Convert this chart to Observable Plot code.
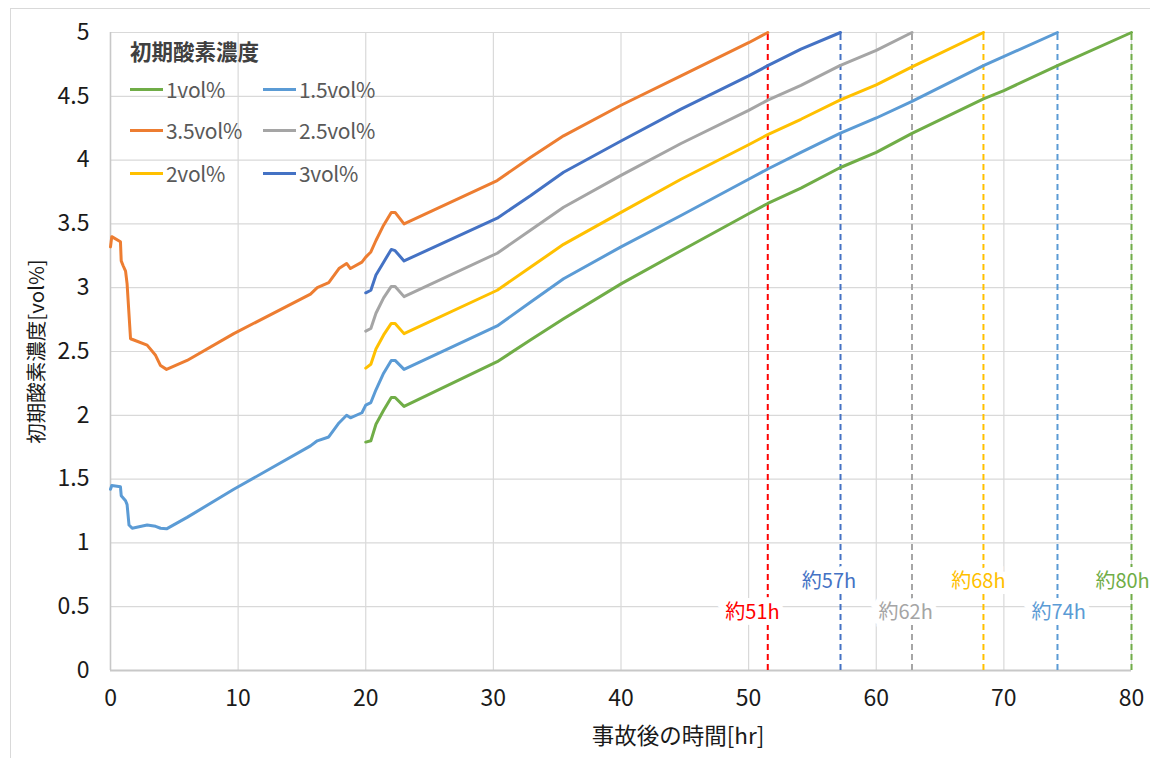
<!DOCTYPE html>
<html><head><meta charset="utf-8">
<script src="https://cdn.jsdelivr.net/npm/d3@7"></script>
<script src="https://cdn.jsdelivr.net/npm/@observablehq/plot@0.6"></script>
<style>
body{margin:0;background:#fff;font-family:"Noto Sans CJK JP","Noto Sans",sans-serif;}
#wrap{position:relative;width:1150px;height:758px;overflow:hidden;background:#fff;}
#border{position:absolute;left:10px;top:8px;width:1170px;height:800px;border:1.5px solid #d9d9d9;box-sizing:border-box;}
#chart{position:absolute;left:0;top:0;}
#legend{position:absolute;left:0;top:0;}
.lg-title{position:absolute;left:130px;top:35px;font-size:21.5px;font-weight:bold;color:#404040;line-height:32px;white-space:nowrap;}
.lg-item{position:absolute;display:flex;align-items:center;height:30px;font-size:21px;color:#595959;white-space:nowrap;letter-spacing:-0.3px;}
.lg-sw{width:33px;height:3px;margin-right:3px;}
</style>
</head><body>
<div id="wrap"><div id="border"></div><div id="chart"></div><div id="legend"></div></div>
<script>
// ---- data ----
const seriesNames = ["1vol%","1.5vol%","3.5vol%","2.5vol%","2vol%","3vol%"];
const seriesColors = ["#70AD47","#5B9BD5","#ED7D31","#A5A5A5","#FFC000","#4472C4"];

const t35 = [0,0.1,0.78,0.84,1.0,1.18,1.3,1.57,1.83,2.87,3.53,3.92,4.39,6.0,9.66,15.67,16.2,17.1,17.9,18.5,18.8,19.7,20.0,20.4,20.8,21.4,22.0,22.3,23.0,30.3,32.9,35.5,40,44.7,50,51.5];
const v35 = [3.32,3.40,3.36,3.21,3.17,3.13,3.03,2.60,2.59,2.55,2.47,2.39,2.36,2.43,2.64,2.95,3.00,3.04,3.15,3.19,3.15,3.20,3.24,3.28,3.37,3.49,3.59,3.59,3.50,3.84,4.02,4.19,4.43,4.66,4.92,5.0];

const t15 = [0,0.1,0.78,0.84,1.18,1.3,1.45,1.7,2.87,3.53,3.92,4.39,6.0,9.66,15.67,16.2,17.1,17.9,18.5,18.8,19.7,20.0,20.4,20.8,21.4,22.0,22.3,23.0,30.3,32.9,35.5,40,44.7,50,51.5,54.1,57.15,60,62.8,68.4,74.2];
const v15 = [1.42,1.45,1.44,1.37,1.33,1.30,1.14,1.115,1.14,1.13,1.115,1.11,1.20,1.42,1.76,1.80,1.83,1.94,2.00,1.98,2.02,2.08,2.10,2.20,2.33,2.43,2.43,2.36,2.70,2.886,3.07,3.32,3.566,3.85,3.93,4.06,4.21,4.33,4.46,4.74,5.0];

const t30 = [20.0,20.4,20.8,21.4,22.0,22.3,23.0,30.3,32.9,35.5,40,44.7,50,51.5,54.1,57.2];
const v30 = [2.96,2.98,3.10,3.20,3.30,3.29,3.21,3.545,3.72,3.905,4.15,4.40,4.66,4.74,4.87,5.0];

const t25 = [20.0,20.4,20.8,21.4,22.0,22.3,23.0,30.3,32.9,35.5,40,44.7,50,51.5,54.1,57.15,60,62.8];
const v25 = [2.66,2.68,2.80,2.92,3.01,3.01,2.93,3.27,3.45,3.63,3.88,4.13,4.39,4.47,4.585,4.74,4.86,5.0];

const t20 = [20.0,20.4,20.8,21.4,22.0,22.3,23.0,30.3,32.9,35.5,40,44.7,50,51.5,54.1,57.15,60,62.8,68.4];
const v20 = [2.37,2.40,2.52,2.63,2.72,2.72,2.64,2.98,3.16,3.34,3.59,3.85,4.12,4.20,4.32,4.47,4.59,4.73,5.0];

const t10 = [20.0,20.4,20.8,21.4,22.0,22.3,23.0,30.3,32.9,35.5,40,44.7,50,51.5,54.1,57.15,60,62.8,68.4,70,74.2,80];
const v10 = [1.79,1.80,1.93,2.04,2.14,2.14,2.07,2.42,2.59,2.756,3.03,3.29,3.58,3.66,3.78,3.94,4.06,4.21,4.48,4.545,4.74,5.0];

// limit times (dashed lines) and their labels
const limitTimes  = [51.5, 57.2, 62.8, 68.4, 74.2, 80];
const limitColors = ["#FF0000","#4472C4","#A5A5A5","#FFC000","#5B9BD5","#70AD47"];
const limitLabels = ["約51h","約57h","約62h","約68h","約74h","約80h"];
const labelX = [50.3, 56.3, 62.3, 68.0, 74.3, 79.3];
const labelY = [0.45, 0.70, 0.45, 0.70, 0.45, 0.70];

const xTicks = [0,10,20,30,40,50,60,70,80];
const yTicks = [0,0.5,1,1.5,2,2.5,3,3.5,4,4.5,5];

// ---- build tables ----
const seriesData = [
  ["1vol%", t10, v10], ["1.5vol%", t15, v15], ["2vol%", t20, v20],
  ["2.5vol%", t25, v25], ["3vol%", t30, v30], ["3.5vol%", t35, v35]
];
const rows = seriesData.flatMap(([s, ts, vs]) => ts.map((t, i) => ({s, t, v: vs[i]})));
const limits = limitTimes.map((t, i) => ({t, c: limitColors[i]}));
const labels = limitLabels.map((l, i) => ({l, x: labelX[i], y: labelY[i], c: limitColors[i]}));

const fontFam = '"Noto Sans CJK JP","Noto Sans",sans-serif';

const chart = Plot.plot({
  width: 1150, height: 758,
  marginLeft: 110, marginRight: 19, marginTop: 32, marginBottom: 88,
  style: {fontSize: "23px", fontFamily: fontFam, color: "#1a1a1a", background: "transparent"},
  x: {domain: [0, 80], label: null},
  y: {domain: [0, 5], label: null},
  color: {domain: seriesNames, range: seriesColors},
  marks: [
    Plot.gridX(xTicks, {stroke: "#d9d9d9", strokeOpacity: 1, strokeWidth: 1.2}),
    Plot.gridY(yTicks, {stroke: "#d9d9d9", strokeOpacity: 1, strokeWidth: 1.2}),
    Plot.axisX(xTicks, {tickSize: 0, tickPadding: 19, fontSize: 23, label: null, fill: "#1a1a1a"}),
    Plot.axisY(yTicks, {tickSize: 0, tickPadding: 21, fontSize: 23, label: null, fill: "#1a1a1a", tickFormat: d => String(d)}),
    Plot.ruleY([0], {stroke: "#c8c8c8", strokeWidth: 2}),
    Plot.ruleX([0], {stroke: "#c8c8c8", strokeWidth: 1.5}),
    Plot.ruleX(limits, {x: "t", y1: 0, y2: 5, stroke: d => d.c, strokeWidth: 2, strokeDasharray: "6,4"}),
    Plot.line(rows, {x: "t", y: "v", z: "s", stroke: "s", strokeWidth: 3, strokeLinejoin: "round", strokeLinecap: "round"}),
    Plot.text(labels, {x: "x", y: "y", text: "l", fill: d => d.c, stroke: "white", strokeWidth: 12,
      strokeLinejoin: "miter", fontSize: 20, fontFamily: fontFam, letterSpacing: "-1px"}),
    Plot.text(["事故後の時間[hr]"], {frameAnchor: "bottom", dx: 57, dy: 73, fontSize: 22.5, fill: "#1a1a1a", fontFamily: fontFam}),
    Plot.text(["初期酸素濃度[vol%]"], {frameAnchor: "left", dx: -73, rotate: -90, textAnchor: "middle", fontSize: 20.5, fill: "#1a1a1a", fontFamily: fontFam})
  ]
});
document.getElementById("chart").appendChild(chart);

// ---- legend (HTML overlay) ----
const lg = document.getElementById("legend");
const title = document.createElement("div");
title.className = "lg-title";
title.textContent = "初期酸素濃度";
lg.appendChild(title);
const legendRowsY = [74, 115, 158];
const legendColsX = [130, 263];
seriesNames.forEach((name, i) => {
  const it = document.createElement("div");
  it.className = "lg-item";
  it.style.left = legendColsX[i % 2] + "px";
  it.style.top = legendRowsY[Math.floor(i / 2)] + "px";
  const sw = document.createElement("span");
  sw.className = "lg-sw";
  sw.style.background = seriesColors[i];
  const tx = document.createElement("span");
  tx.textContent = name;
  it.appendChild(sw); it.appendChild(tx);
  lg.appendChild(it);
});
</script>
</body></html>
